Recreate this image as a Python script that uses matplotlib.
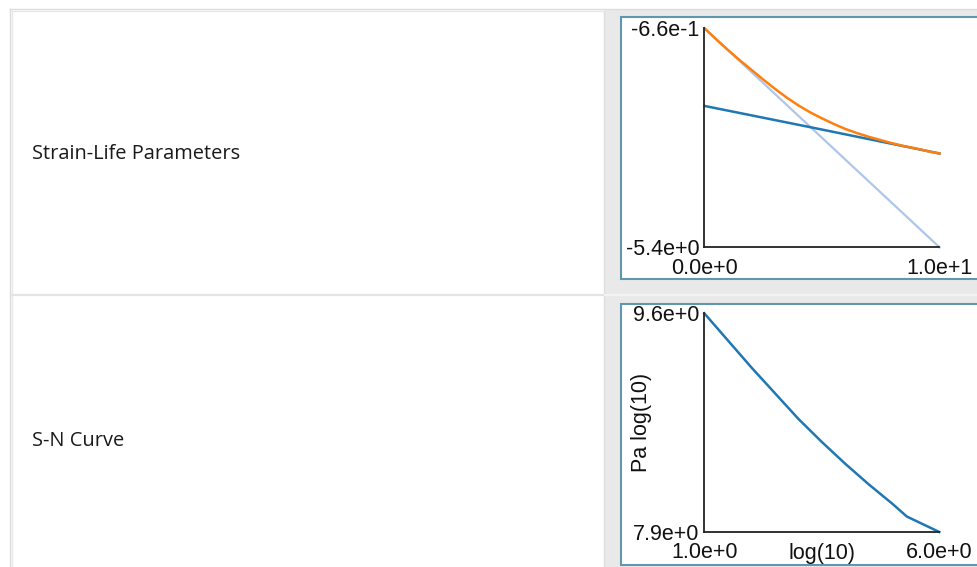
import math
import matplotlib
matplotlib.use('Agg')
import matplotlib.pyplot as plt
from matplotlib.patches import Rectangle
from matplotlib.ticker import FuncFormatter

W, H = 978, 567

# strain-life curves (log scale values)
strain_x = [0, 0.5, 1, 1.5, 2, 2.5, 3, 3.5, 4, 4.5, 5, 5.5, 6, 6.5, 7, 7.5, 8, 8.5, 9, 9.5, 10]
total_strain = [-0.66, -0.90, -1.13, -1.35, -1.56, -1.77, -1.97, -2.16, -2.33, -2.48, -2.61,
                -2.73, -2.84, -2.93, -3.01, -3.08, -3.15, -3.21, -3.26, -3.32, -3.37]
elastic_x = [0, 4.5, 10]
elastic_strain = [-2.34, -2.80, -3.37]
plastic_x = [0, 10]
plastic_strain = [-0.66, -5.4]
strain_ylim = (-5.4, -0.66)

# S-N curve
sn_x = [1, 1.5, 2, 2.5, 3, 3.5, 4, 4.5, 5, 5.31, 6]
sn_y = [9.6, 9.39, 9.18, 8.98, 8.78, 8.60, 8.43, 8.27, 8.12, 8.02, 7.9]
sn_ylim = (7.9, 9.6)

row_labels = ['Strain-Life Parameters', 'S-N Curve']


def sci(v, pos=None):
    if v == 0:
        return '0.0e+0'
    e = int(math.floor(math.log10(abs(v))))
    m = v / 10 ** e
    if round(abs(m), 1) >= 10:
        m /= 10
        e += 1
    return '%.1fe%+d' % (m, e)


def px_axes(fig, x0, y0, x1, y1):
    return fig.add_axes([x0 / W, 1 - y1 / H, (x1 - x0) / W, (y1 - y0) / H])


fig = plt.figure(figsize=(W / 100, H / 100), dpi=100)
fig.patch.set_facecolor('white')

# table background
bg = fig.add_axes([0, 0, 1, 1])
bg.set_xlim(0, W)
bg.set_ylim(H, 0)
bg.axis('off')

bg.add_patch(Rectangle((605, 10), 400, 600, facecolor='#e9e9e9', edgecolor='none'))
bg.plot([9.5, 9.5], [8.5, H + 5], color='#dcdcdc', lw=1)
bg.plot([9.5, W + 5], [8.5, 8.5], color='#dcdcdc', lw=1)
bg.plot([11.5, 11.5], [10.5, H + 5], color='#e8e8e8', lw=1)
bg.plot([11.5, 604], [10.5, 10.5], color='#e8e8e8', lw=1)
bg.plot([604.2, 604.2], [10.5, H + 5], color='#dedede', lw=1)
bg.plot([11.5, 604], [294.5, 294.5], color='#e4e4e4', lw=1.6)
bg.plot([605, W + 5], [294.5, 294.5], color='#f3f3f3', lw=1.6)

for y0, y1 in [(16.5, 278.5), (303.5, 565.3)]:
    bg.add_patch(Rectangle((621, y0), 400, y1 - y0, facecolor='white',
                           edgecolor='#5f97ad', lw=1.5))

bg.text(31.5, 159.3, row_labels[0], family='Open Sans', fontsize=14.4,
        color='#1a1a1a', va='baseline', ha='left')
bg.text(31.5, 445.5, row_labels[1], family='Open Sans', fontsize=14.4,
        color='#1a1a1a', va='baseline', ha='left')

FONT = 'Liberation Sans'
FSIZE = 15.5


def style(ax, xlim, ylim):
    ax.set_xlim(*xlim)
    ax.set_ylim(*ylim)
    ax.set_facecolor('none')
    for s in ['top', 'right']:
        ax.spines[s].set_visible(False)
    for s in ['left', 'bottom']:
        ax.spines[s].set_color('#222222')
        ax.spines[s].set_linewidth(1.3)
    ax.set_xticks(list(xlim))
    ax.set_yticks(list(ylim))
    ax.xaxis.set_major_formatter(FuncFormatter(sci))
    ax.yaxis.set_major_formatter(FuncFormatter(sci))
    ax.tick_params(length=0)
    ax.tick_params(axis='y', pad=3.5)
    ax.tick_params(axis='x', pad=7.5)
    for lab in ax.get_xticklabels() + ax.get_yticklabels():
        lab.set_fontfamily(FONT)
        lab.set_fontsize(FSIZE)
        lab.set_color('#111111')


ax1 = px_axes(fig, 704.5, 28.3, 939.5, 247.3)
ax1.plot(plastic_x, plastic_strain, color='#aec7e8', lw=1.6, clip_on=False)
ax1.plot(elastic_x, elastic_strain, color='#1f77b4', lw=1.8, clip_on=False,
         solid_joinstyle='round')
ax1.plot(strain_x, total_strain, color='#ff7f0e', lw=1.8, clip_on=False,
         solid_joinstyle='round')
style(ax1, (0, 10), strain_ylim)

ax2 = px_axes(fig, 704.3, 313.3, 939.3, 532)
ax2.plot(sn_x, sn_y, color='#1f77b4', lw=1.8, clip_on=False, solid_joinstyle='round')
style(ax2, (1, 6), sn_ylim)
ax2.set_xlabel('log(10)', fontfamily=FONT, fontsize=FSIZE, color='#111111', va='center')
ax2.xaxis.set_label_coords(0.5, -(554 - 532) / 218.7)
ax2.set_ylabel('Pa log(10)', fontfamily=FONT, fontsize=FSIZE, color='#111111', va='center')
ax2.yaxis.set_label_coords((642 - 704.3) / 235, 0.5)

fig.savefig('out.png', dpi=100, facecolor='white')
